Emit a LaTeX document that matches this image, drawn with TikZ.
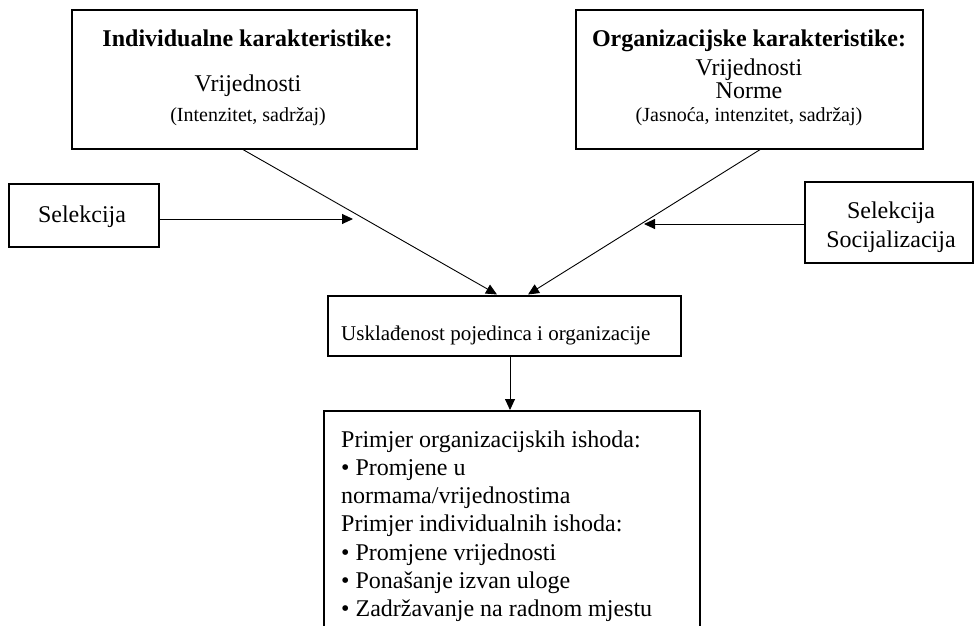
\documentclass[tikz,border=0pt]{standalone}
\usepackage{fontspec}
\setmainfont{Liberation Serif}
\usetikzlibrary{positioning, arrows.meta}

\begin{document}
\begin{tikzpicture}[x=1pt,y=-1pt,
    box/.style={draw,line width=1.1pt,inner sep=0pt,outer sep=0pt},
    lbl/.style={anchor=base,inner sep=0pt,font=\fontsize{24}{28}\selectfont},
    ttl/.style={lbl,font=\fontsize{24}{28}\selectfont\bfseries},
    sml/.style={lbl,font=\fontsize{20}{24}\selectfont},
    arr/.style={-{Triangle[length=11pt,width=10pt]},line width=0.9pt}
  ]
  \useasboundingbox (0,0) rectangle (974,626);
  \clip (0,0) rectangle (974,626);
  % boxes
  \node[box,minimum width=345pt,minimum height=139pt] (indiv) at (244.5,79.5) {};
  \node[box,minimum width=347pt,minimum height=139pt] (org) at (749.5,79.5) {};
  \node[box,minimum width=150pt,minimum height=63pt] (selL) at (84,215.5) {};
  \node[box,minimum width=168pt,minimum height=81pt] (selR) at (889,222.5) {};
  \node[box,minimum width=353pt,minimum height=60pt] (fit) at (504.5,326) {};
  \node[box,minimum width=376pt,minimum height=260pt] (ishodi) at (512,541) {};
  % texts
  \node[ttl] (indivT) at (247.5,47) {Individualne karakteristike:};
  \node[lbl] (indivV) at (248,91) {Vrijednosti};
  \node[sml] (indivS) at (248,121) {(Intenzitet, sadržaj)};
  \node[ttl] (orgT) at (749,47) {Organizacijske karakteristike:};
  \node[lbl] (orgV) at (749,75) {Vrijednosti};
  \node[lbl] (orgN) at (749,98) {Norme};
  \node[sml] (orgS) at (749,121) {(Jasnoća, intenzitet, sadržaj)};
  \node[lbl] (selLT) at (82,222) {Selekcija};
  \node[lbl] (selRT1) at (891,218) {Selekcija};
  \node[lbl] (selRT2) at (891,247) {Socijalizacija};
  \node[lbl,anchor=base west,font=\fontsize{21}{25}\selectfont] (fitT) at (341,340) {Usklađenost pojedinca i organizacije};
  \foreach \t [count=\i] in {Primjer organizacijskih ishoda:,
      • Promjene u, normama/vrijednostima, Primjer individualnih ishoda:,
      • Promjene vrijednosti, • Ponašanje izvan uloge,
      • Zadržavanje na radnom mjestu}{
    \node[lbl,anchor=base west] (ish\i) at (341,{447+(\i-1)*28.33}) {\t};
  }
  % connectors
  \draw[arr] ([xshift=-2.5pt]indiv.south) -- ([xshift=-7.5pt,yshift=1.5pt]fit.north);
  \draw[arr] ([xshift=11.5pt]org.south) -- ([xshift=23.5pt,yshift=1.5pt]fit.north);
  \coordinate (selLtip) at (353,219);
  \draw[arr] (selL.east |- selLtip) -- (selLtip);
  \coordinate (selRtip) at (644,224);
  \draw[arr] (selR.west |- selRtip) -- (selRtip);
  \draw[arr] ([xshift=5.5pt]fit.south) -- ([xshift=5.5pt,yshift=1pt]fit.south |- ishodi.north);
\end{tikzpicture}
\end{document}
